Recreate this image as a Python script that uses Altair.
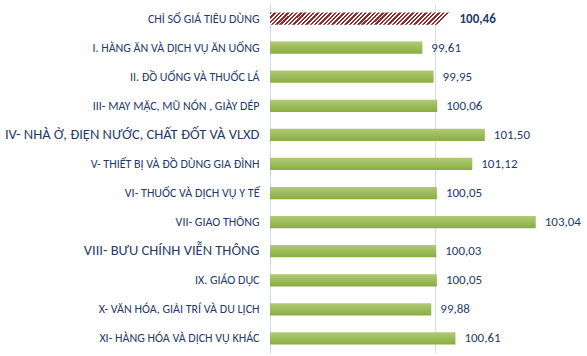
import altair as alt
import pandas as pd

categories = [
    "CHỈ SỐ GIÁ TIÊU DÙNG",
    "I. HÀNG ĂN VÀ DỊCH VỤ ĂN UỐNG",
    "II. ĐỒ UỐNG VÀ THUỐC LÁ",
    "III- MAY MẶC, MŨ NÓN , GIÀY DÉP",
    "IV- NHÀ Ở, ĐIỆN NƯỚC, CHẤT ĐỐT VÀ VLXD",
    "V- THIẾT BỊ VÀ ĐỒ DÙNG GIA ĐÌNH",
    "VI- THUỐC VÀ DỊCH VỤ Y TẾ",
    "VII- GIAO THÔNG",
    "VIII- BƯU CHÍNH VIỄN THÔNG",
    "IX. GIÁO DỤC",
    "X- VĂN HÓA, GIẢI TRÍ VÀ DU LỊCH",
    "XI- HÀNG HÓA VÀ DỊCH VỤ KHÁC",
]
values = [100.46, 99.61, 99.95, 100.06, 101.50, 101.12, 100.05, 103.04, 100.03, 100.05, 99.88, 100.61]
big_labels = ["IV- NHÀ Ở, ĐIỆN NƯỚC, CHẤT ĐỐT VÀ VLXD", "VIII- BƯU CHÍNH VIỄN THÔNG"]
x_start = 95

df = pd.DataFrame({"cat": categories, "v": values, "idx": list(range(len(categories))),
                   "v0": [x_start] * len(categories)})

FONT = "Liberation Sans Narrow, Carlito, Roboto Condensed, Liberation Sans"
TEXT_COLOR = "#1F3B6B"

test_big = " || ".join([f"datum.value == '{b}'" for b in big_labels])

y_enc = alt.Y(
    "cat:N",
    sort=categories,
    title=None,
    scale=alt.Scale(paddingInner=0.58, paddingOuter=0.29),
    axis=alt.Axis(
        domain=True,
        domainColor="#C9D7EA",
        domainWidth=1,
        ticks=False,
        grid=False,
        labelPadding=11,
        labelLimit=400,
        labelFont=FONT,
        labelColor=TEXT_COLOR,
        labelFontSize={"condition": {"test": test_big, "value": 14.5}, "value": 12},
    ),
)
x_enc = alt.X(
    "v:Q",
    title=None,
    scale=alt.Scale(domain=[95, 104.5], zero=False, nice=False),
    axis=alt.Axis(values=[100], labels=False, ticks=False, domain=False, grid=True,
                  gridColor="#D3DBE6", gridWidth=1),
)

base = alt.Chart(df).encode(y=y_enc)

green = alt.Gradient(
    gradient="linear",
    stops=[alt.GradientStop(color="#AFCB74", offset=0), alt.GradientStop(color="#8AAC42", offset=1)],
    x1=0, x2=0, y1=0, y2=1,
)

# diagonal hatch built from a striped gradient
n_stripes = 42
stops = []
for i in range(n_stripes):
    a = i / n_stripes
    m = (i + 0.55) / n_stripes
    e = (i + 1) / n_stripes
    stops += [
        alt.GradientStop(color="#8E2B2B", offset=a),
        alt.GradientStop(color="#8E2B2B", offset=m),
        alt.GradientStop(color="#FFFFFF", offset=m),
        alt.GradientStop(color="#FFFFFF", offset=e),
    ]
hatch = alt.Gradient(gradient="linear", stops=stops, x1=0, y1=0, x2=1, y2=0.068)

bars = base.mark_bar(color=green).encode(x=x_enc, x2="v0:Q").transform_filter("datum.idx > 0")
hbar = base.mark_bar(color=hatch).encode(x=x_enc, x2="v0:Q").transform_filter("datum.idx == 0")

lbl_base = base.transform_calculate(lbl="replace(format(datum.v, '.2f'), '.', ',')")
labels = lbl_base.mark_text(align="left", baseline="middle", dx=9, font=FONT, fontSize=13,
                            color=TEXT_COLOR).encode(
    x=alt.X("v:Q"), text=alt.Text("lbl:N")
).transform_filter("datum.idx > 0")
label0 = lbl_base.mark_text(align="left", baseline="middle", dx=9, font=FONT, fontSize=13,
                            fontWeight="bold", color=TEXT_COLOR).encode(
    x=alt.X("v:Q"), text=alt.Text("lbl:N")
).transform_filter("datum.idx == 0")

chart = (
    alt.layer(bars, hbar, labels, label0)
    .properties(width=314, height=349, autosize="none",
                padding={"left": 270, "top": 4, "right": 3, "bottom": 3})
    .configure_view(stroke=None)
)

chart.save("out.html", embed_options={"renderer": "svg", "actions": False})
